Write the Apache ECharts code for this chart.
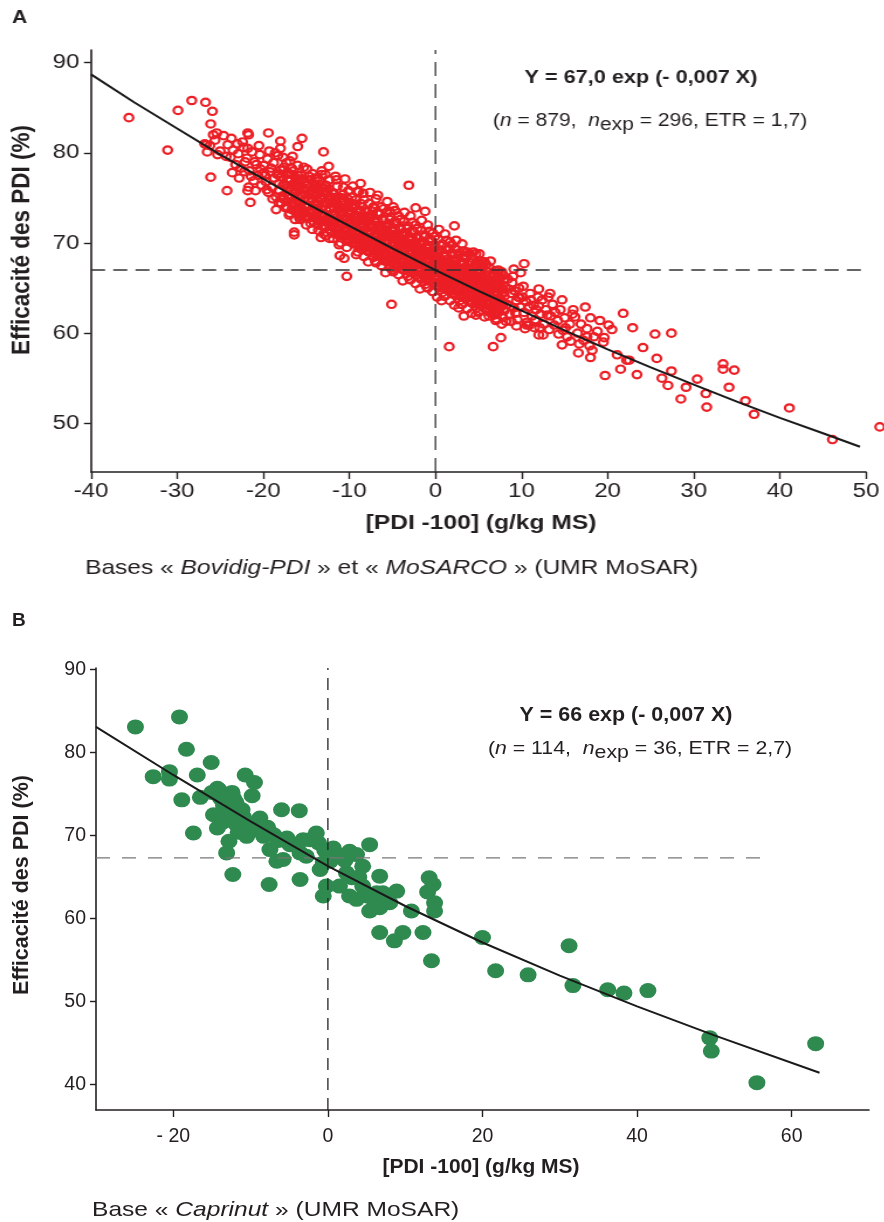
<!DOCTYPE html>
<html><head><meta charset="utf-8">
<script src="https://cdn.jsdelivr.net/npm/echarts@6/dist/echarts.min.js"></script>
<style>
html,body{margin:0;padding:0;background:#fff;width:884px;height:1222px;overflow:hidden;position:relative}
#ca{position:absolute;left:0;top:0;height:600px;transform-origin:0 0}
#cb{position:absolute;left:0;top:600px;width:884px;height:622px}
</style>
</head><body><div id="ca"></div><div id="cb"></div>
<script>
// ---------- Tick labels ----------
const xTicksA = [-40,-30,-20,-10,0,10,20,30,40,50];
const yTicksA = [50,60,70,80,90];
const xTicksB = [-20,0,20,40,60];
const yTicksB = [40,50,60,70,80,90];

// ---------- Panel A data (Bovidig-PDI + MoSARCO) ----------
const ptsA_outliersLeft = [[-35.6,83.9],[-31.1,80.3],[-29.9,84.7],[-28.3,85.8],[-26.7,85.6],[-25.9,84.6],[-26.1,83.2],[-26.1,77.3],[-24.2,75.8],[-21.5,74.5],[-21.8,75.8],[-19.4,82.2],[-21.8,82.2],[-21.7,82.0],[-18.0,81.3],[-18.0,80.5],[-16.0,80.7],[-15.5,81.6],[-13.0,80.1],[-3.1,76.4],[2.2,71.9],[-5.1,63.2],[-10.3,66.3],[-11.1,68.6],[-10.6,68.3],[-16.4,70.9],[-16.4,71.2],[-15.8,72.8],[-18.5,73.7],[-2.3,73.9],[-1.2,73.5],[-5.3,73.5],[-11.5,77.0],[-9.1,75.7],[-7.2,74.0],[-13.2,77.6],[-14.0,77.2],[-23.7,81.6],[-25.4,82.2],[-26.6,80.9]];
const ptsA_m28_m20 = [[-26.8,81.0],[-26.2,80.8],[-25.6,81.4],[-25.0,80.2],[-24.6,81.9],[-24.3,79.6],[-26.5,80.1],[-25.3,79.8],[-24.1,80.9],[-25.8,82.0],
[-23.8,79.5],[-23.5,80.3],[-23.2,78.7],[-22.9,79.9],[-22.6,78.3],[-22.3,80.6],[-22.1,79.0],[-23.6,77.8],[-22.8,77.2],[-22.4,81.2],[-23.0,81.0],[-22.2,77.9],
[-21.9,79.4],[-21.6,78.0],[-21.3,80.1],[-21.1,76.9],[-20.8,78.7],[-20.6,77.5],[-20.4,79.8],[-20.2,76.4],[-21.7,76.2],[-21.4,77.4],[-20.9,75.8],[-20.5,80.8],[-21.0,79.0],[-20.3,78.2],[-21.8,80.5],[-20.1,77.7]];
const ptsA_m20_m14 = [[-19.9,78.6],[-19.7,76.8],[-19.5,79.3],[-19.4,75.6],[-19.2,77.9],[-19.0,76.2],[-18.8,78.9],[-18.7,77.2],[-18.5,75.1],[-18.3,79.7],[-18.2,76.6],[-18.0,78.1],[-19.8,77.5],[-19.3,80.2],[-18.9,74.9],[-18.6,80.0],[-18.4,77.6],[-18.1,75.8],[-19.6,75.9],[-19.1,78.3],
[-17.9,77.3],[-17.8,75.2],[-17.6,78.4],[-17.5,76.5],[-17.3,74.6],[-17.2,77.8],[-17.0,75.9],[-16.9,79.1],[-16.8,76.9],[-16.6,74.2],[-16.5,78.0],[-16.3,75.5],[-16.2,77.2],[-16.1,73.6],[-17.7,79.5],[-17.4,73.9],[-17.1,76.2],[-16.7,75.0],[-16.4,76.6],[-16.0,78.6],[-17.9,74.4],[-16.6,79.6],[-17.3,78.9],[-16.9,73.3],
[-15.9,76.3],[-15.8,74.5],[-15.6,77.5],[-15.5,75.4],[-15.4,73.2],[-15.2,76.8],[-15.1,74.1],[-14.9,78.2],[-14.8,75.8],[-14.7,72.8],[-14.5,77.0],[-14.4,74.9],[-14.2,73.6],[-14.1,76.1],[-15.7,72.6],[-15.3,78.4],[-14.6,75.3],[-14.3,77.7],[-15.0,73.0],[-14.0,74.4],[-15.9,75.0],[-15.4,76.0],[-14.8,74.0],[-14.2,75.6],[-15.6,73.9],[-14.5,72.2]];
const ptsA_m14_m8 = [[-13.9,75.9],[-13.8,73.8],[-13.7,77.2],[-13.5,72.5],[-13.4,74.9],[-13.3,76.4],[-13.1,73.2],[-13.0,75.3],[-12.9,71.8],[-12.8,77.6],[-12.6,74.3],[-12.5,72.9],[-12.4,76.0],[-12.2,73.7],[-12.1,75.1],[-13.6,71.4],[-13.2,78.0],[-12.7,70.8],[-12.3,77.0],[-13.9,72.7],[-13.5,76.9],[-13.0,74.1],[-12.6,75.8],[-12.2,71.9],[-13.7,74.6],[-12.9,73.0],[-12.0,74.5],[-13.3,70.6],[-12.4,78.5],
[-11.9,73.1],[-11.8,75.5],[-11.7,71.6],[-11.5,74.2],[-11.4,76.3],[-11.3,72.4],[-11.1,73.8],[-11.0,70.9],[-10.9,75.0],[-10.8,72.0],[-10.6,74.6],[-10.5,77.1],[-10.4,71.3],[-10.2,73.4],[-10.1,75.8],[-11.6,77.4],[-11.2,69.8],[-10.7,76.2],[-10.3,70.2],[-11.9,70.5],[-11.5,72.8],[-11.0,74.0],[-10.6,72.7],[-10.2,74.9],[-11.8,74.0],[-11.3,75.1],[-10.9,73.2],[-10.5,71.6],[-10.0,72.5],[-11.4,71.0],
[-9.9,73.6],[-9.8,71.3],[-9.7,75.1],[-9.5,69.9],[-9.4,72.5],[-9.3,74.3],[-9.1,70.6],[-9.0,73.0],[-8.9,75.7],[-8.8,71.8],[-8.6,69.3],[-8.5,74.0],[-8.4,72.2],[-8.2,70.4],[-8.1,73.5],[-9.6,76.3],[-9.2,68.7],[-8.7,76.6],[-8.3,74.8],[-9.9,70.2],[-9.5,72.0],[-9.0,71.4],[-8.6,72.9],[-8.2,71.5],[-9.7,73.9],[-9.2,74.8],[-8.8,70.0],[-8.4,75.5],[-8.0,72.6],[-9.4,71.0],[-8.9,69.6],[-8.5,70.8]];
const ptsA_m8_m2 = [[-7.9,72.9],[-7.8,70.6],[-7.7,74.4],[-7.5,69.4],[-7.4,71.8],[-7.3,73.5],[-7.1,70.0],[-7.0,72.3],[-6.9,74.9],[-6.8,71.1],[-6.6,68.6],[-6.5,73.2],[-6.4,71.5],[-6.2,69.7],[-6.1,72.7],[-7.6,75.6],[-7.2,68.4],[-6.7,75.3],[-6.3,74.0],[-7.9,69.1],[-7.5,71.2],[-7.0,70.8],[-6.6,72.0],[-6.2,71.0],[-7.7,72.1],[-7.2,73.9],[-6.8,69.2],[-6.4,70.3],[-6.0,70.6],[-7.4,70.3],[-6.9,67.8],[-6.5,69.9],[-7.8,67.9],[-6.0,73.8],
[-5.9,71.9],[-5.8,69.5],[-5.7,73.4],[-5.5,68.3],[-5.4,70.8],[-5.3,72.6],[-5.1,69.0],[-5.0,71.3],[-4.9,74.0],[-4.8,70.1],[-4.6,67.6],[-4.5,72.2],[-4.4,70.5],[-4.2,68.7],[-4.1,71.7],[-5.6,74.6],[-5.2,67.2],[-4.7,73.6],[-4.3,73.0],[-5.9,68.0],[-5.5,70.2],[-5.0,69.7],[-4.6,71.0],[-4.2,70.0],[-5.7,71.0],[-5.2,72.9],[-4.8,68.2],[-4.4,69.2],[-4.0,69.6],[-5.4,69.3],[-4.9,66.8],[-4.5,68.9],[-5.8,66.7],[-4.1,72.6],[-5.1,70.6],[-4.7,69.8],
[-3.9,70.9],[-3.8,68.6],[-3.7,72.4],[-3.5,67.4],[-3.4,69.8],[-3.3,71.6],[-3.1,68.1],[-3.0,70.3],[-2.9,73.0],[-2.8,69.2],[-2.6,66.7],[-2.5,71.2],[-2.4,69.5],[-2.2,67.8],[-2.1,70.7],[-3.6,73.4],[-3.2,66.3],[-2.7,72.3],[-2.3,72.0],[-3.9,67.1],[-3.5,69.3],[-3.0,68.8],[-2.6,70.0],[-2.2,69.0],[-3.7,70.0],[-3.2,71.9],[-2.8,67.3],[-2.4,68.2],[-2.0,68.6],[-3.4,68.4],[-2.9,65.9],[-2.5,67.9],[-3.8,65.8],[-2.1,71.6],[-3.1,69.6],[-2.7,68.9]];
const ptsA_m2_4 = [[-1.9,69.9],[-1.8,67.7],[-1.7,71.4],[-1.5,66.5],[-1.4,68.9],[-1.3,70.7],[-1.1,67.2],[-1.0,69.4],[-0.9,72.0],[-0.8,68.3],[-0.6,65.8],[-0.5,70.2],[-0.4,68.6],[-0.2,66.9],[-0.1,69.8],[-1.6,72.5],[-1.2,65.4],[-0.7,71.3],[-0.3,71.1],[-1.9,66.2],[-1.5,68.4],[-1.0,67.9],[-0.6,69.1],[-0.2,68.1],[-1.7,69.1],[-1.2,70.9],[-0.8,66.4],[-0.4,67.3],[0.0,67.7],[-1.4,67.5],[-0.9,65.0],[-0.5,66.9],[-1.8,64.9],[-0.1,70.7],[-1.1,68.7],[-0.7,68.0],[-0.3,64.6],
[0.1,68.9],[0.2,66.8],[0.3,70.4],[0.5,65.6],[0.6,68.0],[0.7,69.7],[0.9,66.3],[1.0,68.5],[1.1,71.0],[1.2,67.4],[1.4,64.9],[1.5,69.3],[1.6,67.7],[1.8,66.0],[1.9,68.9],[0.4,71.5],[0.8,64.5],[1.3,70.3],[1.7,70.1],[0.1,65.3],[0.5,67.5],[1.0,67.0],[1.4,68.2],[1.8,67.2],[0.3,68.2],[0.8,69.9],[1.2,65.5],[1.6,66.4],[2.0,66.8],[0.6,66.6],[1.1,64.1],[1.5,66.0],[0.2,64.0],[1.9,69.8],[0.9,67.8],[1.3,67.1],[0.7,63.6],[1.7,64.8],
[2.1,68.0],[2.2,65.9],[2.3,69.3],[2.5,64.7],[2.6,67.1],[2.7,68.7],[2.9,65.4],[3.0,67.6],[3.1,69.9],[3.2,66.5],[3.4,64.0],[3.5,68.3],[3.6,66.8],[3.8,65.1],[3.9,67.9],[2.4,70.3],[2.8,63.6],[3.3,69.1],[3.7,69.0],[2.1,64.4],[2.5,66.6],[3.0,66.1],[3.4,67.3],[3.8,66.3],[2.3,67.3],[2.8,68.9],[3.2,64.6],[3.6,65.5],[4.0,65.9],[2.6,65.7],[3.1,63.2],[3.5,65.1],[2.2,63.1],[3.9,68.8],[2.9,66.9],[3.3,66.2],[2.7,62.8],[3.7,63.9]];
const ptsA_4_10 = [[4.1,67.0],[4.2,65.0],[4.3,68.3],[4.5,63.8],[4.6,66.2],[4.7,67.7],[4.9,64.5],[5.0,66.6],[5.1,68.8],[5.2,65.6],[5.4,63.2],[5.5,67.3],[5.6,65.9],[5.8,64.3],[5.9,66.9],[4.4,69.0],[4.8,62.8],[5.3,68.0],[5.7,67.9],[4.1,63.5],[4.5,65.7],[5.0,65.2],[5.4,66.4],[5.8,65.4],[4.3,66.4],[4.8,67.9],[5.2,63.7],[5.6,64.6],[6.0,65.0],[4.6,64.8],[5.1,62.4],[5.5,64.2],[4.2,62.2],[5.9,67.6],[4.9,66.0],[5.3,65.3],[4.7,62.0],
[6.1,66.0],[6.2,64.1],[6.3,67.2],[6.5,62.9],[6.6,65.3],[6.7,66.7],[6.9,63.6],[7.0,65.6],[7.2,64.6],[7.4,62.4],[7.5,66.2],[7.6,64.9],[7.8,63.4],[7.9,65.9],[6.4,68.0],[6.8,62.0],[7.3,67.0],[7.7,66.8],[6.1,62.6],[6.5,64.8],[7.0,64.3],[7.4,65.4],[7.8,64.5],[6.3,65.5],[6.9,66.9],[7.2,62.8],[7.6,63.7],[8.0,64.1],[6.7,63.9],[7.1,61.6],[7.5,63.3],[6.2,61.9],[7.9,66.4],
[8.1,65.1],[8.3,63.2],[8.4,66.0],[8.6,62.1],[8.8,64.4],[8.9,65.6],[9.1,62.8],[9.2,64.7],[9.4,63.6],[9.5,61.5],[9.7,65.0],[9.8,63.9],[8.2,61.3],[8.7,63.0],[9.0,66.3],[9.3,62.2],[9.6,64.0],[9.9,62.9],[8.5,64.9],[9.4,60.8],[8.0,62.5],[9.9,66.7]];
const ptsA_10_20 = [[10.1,64.0],[10.3,62.3],[10.5,63.5],[10.6,61.2],[10.8,62.9],[11.0,64.4],[11.2,61.9],[11.4,63.1],[11.5,60.6],[11.7,62.6],[11.9,64.0],[10.4,60.5],[11.1,63.7],[11.6,61.5],[10.9,60.9],[12.0,63.0],[10.2,65.2],
[12.2,62.1],[12.4,63.7],[12.6,61.0],[12.8,62.6],[13.1,64.0],[13.2,60.4],[13.4,61.9],[13.6,63.2],[13.8,60.9],[12.5,59.8],[13.0,62.0],[13.9,62.3],[12.1,60.6],
[14.2,61.4],[14.5,62.6],[14.8,60.3],[15.0,61.7],[15.3,59.6],[15.6,61.0],[15.9,62.1],[14.3,59.9],[15.1,60.6],[15.7,59.1],
[16.2,61.8],[16.5,60.0],[16.9,61.0],[17.2,59.2],[17.6,60.5],[18.0,61.7],[18.4,59.6],[18.8,60.2],[16.7,58.8],[17.9,58.6]];
// dense core of the cloud (solid red zone)
const ptsA_core = [
[-17.0,77.7],[-17.0,75.2],[-17.0,73.1],[-16.7,76.4],[-16.7,73.7],[-16.7,78.3],[-16.3,74.5],[-16.3,75.8],[-16.3,72.6],
[-16.0,77.5],[-16.0,73.8],[-16.0,75.1],[-15.7,73.0],[-15.7,76.4],[-15.7,74.3],[-15.3,77.1],[-15.3,73.5],[-15.3,75.9],
[-15.0,76.6],[-15.0,74.1],[-15.0,72.0],[-14.7,75.5],[-14.7,72.8],[-14.7,77.4],[-14.3,73.6],[-14.3,74.9],[-14.3,71.5],
[-14.0,76.5],[-14.0,72.8],[-14.0,74.1],[-13.7,72.0],[-13.7,75.4],[-13.7,73.3],[-13.3,76.1],[-13.3,72.4],[-13.3,74.8],
[-13.0,75.6],[-13.0,73.1],[-13.0,71.0],[-12.7,74.5],[-12.7,71.8],[-12.7,76.4],[-12.3,72.6],[-12.3,73.9],[-12.3,70.5],
[-12.0,75.5],[-12.0,71.8],[-12.0,73.1],[-11.7,71.0],[-11.7,74.4],[-11.7,72.3],[-11.3,75.1],[-11.3,71.4],[-11.3,73.8],
[-11.0,74.6],[-11.0,72.1],[-11.0,70.0],[-10.7,73.5],[-10.7,70.8],[-10.7,75.4],[-10.3,71.6],[-10.3,72.9],[-10.3,69.5],
[-10.0,74.5],[-10.0,70.8],[-10.0,72.1],[-9.7,70.0],[-9.7,73.4],[-9.7,71.3],[-9.3,74.1],[-9.3,70.4],[-9.3,72.8],
[-9.0,73.6],[-9.0,71.1],[-9.0,69.0],[-8.7,72.5],[-8.7,69.8],[-8.7,74.4],[-8.3,70.6],[-8.3,71.9],[-8.3,68.5],
[-8.0,73.5],[-8.0,69.8],[-8.0,71.1],[-7.7,69.0],[-7.7,72.4],[-7.7,70.3],[-7.3,73.1],[-7.3,69.4],[-7.3,71.8],
[-7.0,72.6],[-7.0,70.1],[-7.0,68.0],[-6.7,71.5],[-6.7,68.8],[-6.7,73.4],[-6.3,69.6],[-6.3,70.9],[-6.3,67.5],
[-6.0,72.5],[-6.0,68.8],[-6.0,70.1],[-5.7,68.0],[-5.7,71.4],[-5.7,69.3],[-5.3,72.1],[-5.3,68.4],[-5.3,70.8],
[-5.0,71.6],[-5.0,69.1],[-5.0,67.0],[-4.7,70.5],[-4.7,67.8],[-4.7,72.4],[-4.3,68.6],[-4.3,69.9],[-4.3,66.5],
[-4.0,71.5],[-4.0,67.8],[-4.0,69.1],[-3.7,67.0],[-3.7,70.4],[-3.7,68.3],[-3.3,71.1],[-3.3,67.4],[-3.3,69.8],
[-3.0,70.6],[-3.0,68.1],[-3.0,66.0],[-2.7,69.5],[-2.7,66.8],[-2.7,71.4],[-2.3,67.6],[-2.3,68.9],[-2.3,65.5],
[-2.0,70.5],[-2.0,66.8],[-2.0,68.1],[-1.7,66.0],[-1.7,69.4],[-1.7,67.3],[-1.3,70.1],[-1.3,66.4],[-1.3,68.8],
[-1.0,69.7],[-1.0,67.2],[-1.0,65.1],[-0.7,68.6],[-0.7,65.9],[-0.7,70.5],[-0.3,66.7],[-0.3,68.0],[-0.3,64.6],
[0.0,69.6],[0.0,65.9],[0.0,67.2],[0.3,65.1],[0.3,68.5],[0.3,66.4],[0.7,69.2],[0.7,65.5],[0.7,67.9],
[1.0,68.7],[1.0,66.2],[1.0,64.1],[1.3,67.6],[1.3,64.9],[1.3,69.5],[1.7,65.7],[1.7,67.0],[1.7,63.6],
[2.0,68.7],[2.0,65.0],[2.0,66.3],[2.3,64.2],[2.3,67.6],[2.3,65.5],[2.7,68.3],[2.7,64.6],[2.7,67.0],
[3.0,67.8],[3.0,65.3],[3.0,63.2],[3.3,66.7],[3.3,64.0],[3.3,68.6],[3.7,64.8],[3.7,66.1],[3.7,62.7],
[4.0,67.8],[4.0,64.1],[4.0,65.4],[4.3,63.3],[4.3,66.7],[4.3,64.6],[4.7,67.4],[4.7,63.7],[4.7,66.1],
[5.0,66.9],[5.0,64.4],[5.0,62.3],[5.3,65.8],[5.3,63.1],[5.3,67.7],[5.7,63.9],[5.7,65.2],[5.7,61.8],
[6.0,66.8],[6.0,63.1],[6.0,64.4],[6.3,62.3],[6.3,65.7],[6.3,63.6],[6.7,66.4],[6.7,62.7],[6.7,65.1],
[7.0,65.9],[7.0,63.5],[7.0,61.4],[7.3,64.9],[7.3,62.3],[7.3,66.6],[7.7,63.0],[7.7,64.3],[7.7,61.0]];
const ptsA_core2 = [
[-18.2,77.6],[-18.2,75.8],[-18.2,74.5],[-17.7,76.4],[-17.7,78.1],[-17.7,74.9],[-17.2,77.1],[-17.2,75.3],[-17.2,74.0],
[-16.7,75.9],[-16.7,77.6],[-16.7,74.4],[-16.2,76.5],[-16.2,74.7],[-16.2,73.4],[-15.7,75.4],[-15.7,77.1],[-15.7,73.9],
[-15.2,76.0],[-15.2,74.2],[-15.2,72.9],[-14.7,74.8],[-14.7,76.5],[-14.7,73.3],[-14.2,75.5],[-14.2,73.7],[-14.2,72.4],
[-13.7,74.3],[-13.7,76.0],[-13.7,72.8],[-13.2,75.0],[-13.2,73.2],[-13.2,71.9],[-12.7,73.8],[-12.7,75.5],[-12.7,72.3],
[-12.2,74.5],[-12.2,72.7],[-12.2,71.4],[-11.7,73.3],[-11.7,75.0],[-11.7,71.8],[-11.2,74.0],[-11.2,72.2],[-11.2,70.9],
[-10.7,72.8],[-10.7,74.5],[-10.7,71.3],[-10.2,73.5],[-10.2,71.7],[-10.2,70.4],[-9.7,72.3],[-9.7,74.0],[-9.7,70.8],
[-9.2,73.0],[-9.2,71.2],[-9.2,69.9],[-8.7,71.8],[-8.7,73.5],[-8.7,70.3],[-8.2,72.5],[-8.2,70.7],[-8.2,69.4],
[-7.7,71.3],[-7.7,73.0],[-7.7,69.8],[-7.2,72.0],[-7.2,70.2],[-7.2,68.9],[-6.7,70.8],[-6.7,72.5],[-6.7,69.3],
[-6.2,71.5],[-6.2,69.7],[-6.2,68.4],[-5.7,70.3],[-5.7,72.0],[-5.7,68.8],[-5.2,71.0],[-5.2,69.2],[-5.2,67.9],
[-4.7,69.8],[-4.7,71.5],[-4.7,68.3],[-4.2,70.5],[-4.2,68.7],[-4.2,67.4],[-3.7,69.4],[-3.7,71.1],[-3.7,67.9],
[-3.2,70.0],[-3.2,68.2],[-3.2,66.9],[-2.7,68.9],[-2.7,70.6],[-2.7,67.4],[-2.2,69.5],[-2.2,67.7],[-2.2,66.4],
[-1.7,68.4],[-1.7,70.1],[-1.7,66.9],[-1.2,69.1],[-1.2,67.3],[-1.2,66.0],[-0.7,67.9],[-0.7,69.6],[-0.7,66.4],
[-0.2,68.6],[-0.2,66.8],[-0.2,65.5],[0.3,67.5],[0.3,69.2],[0.3,66.0],[0.8,68.1],[0.8,66.3],[0.8,65.0],
[1.3,67.0],[1.3,68.7],[1.3,65.5],[1.8,67.7],[1.8,65.9],[1.8,64.6],[2.3,66.5],[2.3,68.2],[2.3,65.0],
[2.8,67.2],[2.8,65.4],[2.8,64.1],[3.3,66.1],[3.3,67.8],[3.3,64.6],[3.8,66.7],[3.8,64.9],[3.8,63.6],
[4.3,65.6],[4.3,67.3],[4.3,64.1],[4.8,66.3],[4.8,64.5],[4.8,63.2],[5.3,65.2],[5.3,66.9],[5.3,63.7],
[5.8,65.8],[5.8,64.0],[5.8,62.7],[6.3,64.7],[6.3,66.4],[6.3,63.2],[6.8,65.4],[6.8,63.6],[6.8,62.3],
[7.3,64.3],[7.3,66.0],[7.3,62.8],[7.8,64.9],[7.8,63.1],[7.8,61.8]];
const ptsA_outliersRight = [[1.6,58.5],[6.7,58.5],[7.6,59.5],[10.3,67.7],[9.1,67.1],[4.7,68.8],[12.0,64.9],[13.3,64.4],[14.7,63.7],[17.4,62.9],[16.0,62.6],[19.1,61.4],[20.1,60.9],[20.5,60.4],[21.8,62.2],[22.9,60.6],[25.5,59.9],[27.4,60.0],[24.1,58.4],[25.7,57.2],[21.1,57.6],[22.2,57.0],[22.5,57.0],[21.5,56.0],[19.7,55.3],[23.4,55.4],[26.3,55.0],[27.4,55.8],[27.0,54.2],[29.1,54.0],[30.4,54.9],[28.5,52.7],[31.4,53.3],[31.5,51.8],[33.4,56.6],[33.4,56.0],[34.7,55.9],[34.1,54.0],[36.0,52.5],[37.0,51.0],[41.1,51.7],[46.1,48.2],[51.6,49.6],[14.7,58.7],[16.6,57.8],[18.0,57.3],[18.2,58.1],[19.5,59.0],[19.6,59.5],[12.0,59.8],[3.3,61.9],[17.6,59.6],[10.6,60.9],[8.8,61.3]];
const fitA = [[-40,88.7],[-35,85.6],[-30,82.7],[-25,79.8],[-20,77.1],[-15,74.4],[-10,71.9],[-5,69.4],[0,67.0],[5,64.7],[10,62.5],[15,60.3],[20,58.2],[25,56.2],[30,54.3],[35,52.4],[40,50.6],[45,48.9],[49.3,47.4]];
const refHA = [[-40,67.0],[50,67.0]];
const refVA = [[0,44.6],[0,91.4]];

// ---------- Panel B data (Caprinut) ----------
const ptsB_left = [[-24.9,83.1],[-19.2,84.3],[-18.3,80.4],[-15.1,78.8],[-22.6,77.1],[-20.5,77.7],[-20.5,76.8],[-16.9,77.3],[-18.9,74.3],[-17.4,70.3],[-10.7,77.3],[-9.5,76.4],[-9.8,74.8],[-16.5,74.6],[-14.3,75.7],[-14.1,75.5],[-12.2,74.5],[-14.8,72.5],[-14.3,70.9],[-12.6,72.1],[-11.1,73.1],[-10.5,69.9],[-8.8,72.1],[-8.3,69.9],[-7.0,70.1],[-12.8,69.3],[-13.1,67.9],[-6.0,73.1],[-3.7,73.0],[-7.5,68.3],[-6.6,66.9],[-5.8,67.1],[-4.9,68.9],[-3.6,67.9],[-3.2,69.5],[-1.5,70.3],[-1.2,69.1],[-0.6,66.7],[-1.0,65.9],[-12.3,65.3],[-7.6,64.1],[-3.6,64.7],
[-13.5,73.6],[-12.9,73.0],[-11.8,71.3],[-13.6,71.6],[-10.1,71.4],[-9.4,70.8],[-11.6,70.4],[-11.9,74.0],[-7.8,71.0],[-6.4,69.4],[-5.3,69.7],[-2.3,69.5],[-0.4,68.2],[-2.8,67.5],[-12.4,75.2],[-10.9,72.2],[-13.9,74.5],[-15.0,75.2],[-8.9,70.6]];
const ptsB_right = [[0.7,68.5],[2.8,68.1],[3.7,67.7],[5.4,68.9],[4.5,66.3],[2.4,65.5],[1.5,63.9],[-0.2,63.9],[-0.6,62.7],[2.8,62.7],[3.7,62.3],[4.5,63.9],[6.3,63.1],[6.7,65.1],[7.1,63.1],[8.9,63.3],[8.0,61.9],[5.4,60.9],[6.7,61.3],[10.8,60.9],[6.7,58.3],[8.6,57.3],[9.7,58.3],[12.3,58.3],[13.4,54.9],[13.1,64.9],[13.6,64.1],[12.9,63.2],[13.8,61.9],[13.8,60.9],[20.0,57.7],
[1.8,67.6],[2.2,67.0],[3.1,64.9],[4.0,65.0],[5.0,62.7],[5.9,62.3],[7.5,62.5],[0.3,66.9],
[21.7,53.7],[25.9,53.2],[31.2,56.7],[31.7,51.9],[36.2,51.4],[38.3,51.0],[41.4,51.3],[49.4,45.6],[49.6,44.0],[55.5,40.2],[63.1,44.9]];
const fitB = [[-30,83.1],[-20,77.3],[-10,71.7],[0,66.3],[10,61.5],[20,57.1],[30,53.1],[40,49.4],[50,45.9],[63.6,41.4]];
const refHB = [[-30,67.3],[56.1,67.3]];
const refVB = [[0,36.9],[0,90.2]];

// ---------- Layout helpers ----------
const SA = 1.17;               // panel A artwork is horizontally stretched
const FONT = '"Liberation Sans", Arial, Helvetica, sans-serif';
const NARROW = '"Liberation Sans Narrow", "Arial Narrow", "Liberation Sans", Arial, sans-serif';
const INK = '#231f20';
document.getElementById('ca').style.width = (884/SA)+'px';
document.getElementById('ca').style.transform = 'scaleX('+SA+')';

function xa(min,max,ticks,fs,margin,fmt,family){
  return {type:'value',min:min,max:max,position:'bottom',
    axisLine:{show:true,onZero:false,lineStyle:{color:INK,width:1.6}},
    axisTick:{show:true,length:7,customValues:ticks,lineStyle:{color:INK,width:1.4}},
    splitLine:{show:false},
    axisLabel:{customValues:ticks,margin:margin,formatter:fmt,color:INK,fontFamily:family,fontSize:fs}};
}
function ya(min,max,ticks,fs){
  return {type:'value',min:min,max:max,position:'left',
    axisLine:{show:true,onZero:false,lineStyle:{color:INK,width:1.6}},
    axisTick:{show:true,length:6,customValues:ticks,lineStyle:{color:INK,width:1.4}},
    splitLine:{show:false},
    axisLabel:{customValues:ticks,margin:10,color:INK,fontFamily:FONT,fontSize:fs}};
}
function dashLine(data,color,dash){
  return {type:'line',data:data,showSymbol:false,silent:true,z:3,lineStyle:{color:color,width:1.3,type:dash}};
}
function eqLine2(text,fs){
  const base = {fontFamily:FONT,fontSize:fs,fill:INK};
  return {text:text,align:'center',verticalAlign:'middle',
    rich:{n:base,i:Object.assign({},base,{fontStyle:'italic'}),s:Object.assign({},base,{padding:[8,0,0,0]})}};
}
const ptsA = [].concat(ptsA_outliersLeft, ptsA_m28_m20, ptsA_m20_m14, ptsA_m14_m8, ptsA_m8_m2, ptsA_m2_4, ptsA_core, ptsA_core2, ptsA_4_10, ptsA_10_20, ptsA_outliersRight);
const ptsB = [].concat(ptsB_left, ptsB_right);

// ---------- Panel A ----------
const chartA = echarts.init(document.getElementById('ca'), null, {renderer:'canvas'});
chartA.setOption({
  animation:false, backgroundColor:'#fff',
  grid:{left:91/SA,top:50,width:775/SA,height:422},
  xAxis:xa(-40,50,xTicksA,20.5,9,v=>String(v),FONT),
  yAxis:ya(44.6,91.4,yTicksA,20.5),
  series:[
    {type:'scatter',data:ptsA,symbol:'circle',symbolSize:7.4,clip:false,silent:true,z:2,large:false,
      itemStyle:{color:'rgba(255,255,255,0)',borderColor:'#ec1f26',borderWidth:2.2,opacity:1}},
    dashLine(refHA,'#333',[12,7]),
    dashLine(refVA,'#333',[14,8]),
    {type:'line',data:fitA,showSymbol:false,silent:true,z:4,lineStyle:{color:'#1a1a1a',width:2}}
  ],
  graphic:[
    {type:'text',left:12/SA,top:9,style:{text:'A',font:'bold 18px '+FONT,fill:INK}},
    {type:'text',x:22/SA,y:240,rotation:Math.PI/2,style:{text:'Efficacité des PDI (%)',font:'bold 22.5px '+FONT,fill:INK,align:'center',verticalAlign:'middle'}},
    {type:'text',x:481/SA,y:523,style:{text:'[PDI -100] (g/kg MS)',font:'bold 21px '+FONT,fill:INK,align:'center',verticalAlign:'middle'}},
    {type:'text',x:85/SA,y:568,style:{text:'{n|Bases « }{i|Bovidig-PDI}{n| » et « }{i|MoSARCO}{n| » (UMR MoSAR)}',align:'left',verticalAlign:'middle',
      rich:{n:{fontFamily:FONT,fontSize:21,fill:INK},i:{fontFamily:FONT,fontSize:21,fontStyle:'italic',fill:INK}}}},
    {type:'text',x:641/SA,y:78,style:{text:'Y = 67,0 exp (- 0,007 X)',font:'bold 18.5px '+FONT,fill:INK,align:'center',verticalAlign:'middle'}},
    {type:'text',x:650/SA,y:121,style:eqLine2('{n|(}{i|n}{n| = 879,  }{i|n}{s|exp}{n| = 296, ETR = 1,7)}',18)}
  ]
});

// ---------- Panel B ----------
const chartB = echarts.init(document.getElementById('cb'), null, {renderer:'canvas'});
chartB.setOption({
  animation:false, backgroundColor:'#fff',
  grid:{left:96,top:68,width:773,height:442},
  xAxis:xa(-30,70,xTicksB,19.5,17,v=>v<0?('- '+Math.abs(v)):String(v),NARROW),
  yAxis:ya(36.9,90.2,yTicksB,19.5),
  series:[
    {type:'scatter',data:ptsB,symbol:'circle',symbolSize:[17,15],silent:true,z:2,itemStyle:{color:'#2f8a4f',opacity:1}},
    dashLine(refHB,'#777',[14,12]),
    dashLine(refVB,'#222',[12,8]),
    {type:'line',data:fitB,showSymbol:false,silent:true,z:4,lineStyle:{color:'#1a1a1a',width:2}}
  ],
  graphic:[
    {type:'text',left:12,top:11,style:{text:'B',font:'bold 19px '+FONT,fill:INK}},
    {type:'text',x:22,y:285,rotation:Math.PI/2,style:{text:'Efficacité des PDI (%)',font:'bold 21.5px '+FONT,fill:INK,align:'center',verticalAlign:'middle'}},
    {type:'text',x:481,y:567,style:{text:'[PDI -100] (g/kg MS)',font:'bold 21px '+FONT,fill:INK,align:'center',verticalAlign:'middle'}},
    {type:'text',x:92,y:610,scaleX:1.17,style:{text:'{n|Base « }{i|Caprinut}{n| » (UMR MoSAR)}',align:'left',verticalAlign:'middle',
      rich:{n:{fontFamily:FONT,fontSize:21,fill:INK},i:{fontFamily:FONT,fontSize:21,fontStyle:'italic',fill:INK}}}},
    {type:'text',x:626,y:116,scaleX:1.1,style:{text:'Y = 66 exp (- 0,007 X)',font:'bold 19.5px '+FONT,fill:INK,align:'center',verticalAlign:'middle'}},
    {type:'text',x:640,y:149,scaleX:1.12,style:eqLine2('{n|(}{i|n}{n| = 114,  }{i|n}{s|exp}{n| = 36, ETR = 2,7)}',19)}
  ]
});
</script></body></html>
